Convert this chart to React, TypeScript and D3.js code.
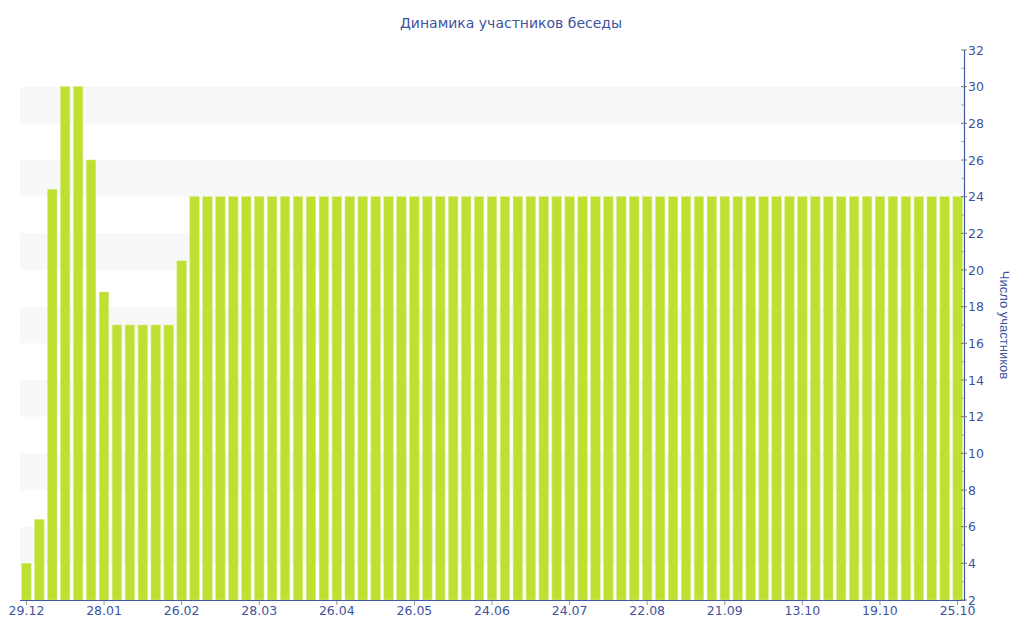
import React from "react";
import * as d3 from "d3";

const title = "Динамика участников беседы";
const yAxisTitle = "Число участников";

const headValues = [4, 6.4, 24.4, 30, 30, 26, 18.8, 17, 17, 17, 17, 17, 20.5];
const tailValues = [
  24, 24, 24, 24, 24, 24, 24, 24, 24, 24, 24, 24, 24, 24, 24, 24, 24, 24, 24, 24,
  24, 24, 24, 24, 24, 24, 24, 24, 24, 24, 24, 24, 24, 24, 24, 24, 24, 24, 24, 24,
  24, 24, 24, 24, 24, 24, 24, 24, 24, 24, 24, 24, 24, 24, 24, 24, 24, 24, 24, 24,
];
const values = [...headValues, ...tailValues];

const tickLabels = [
  "29.12", "28.01", "26.02", "28.03", "26.04", "26.05", "24.06",
  "24.07", "22.08", "21.09", "13.10", "19.10", "25.10",
];
const labelEvery = 6;

const yTicks = [2, 4, 6, 8, 10, 12, 14, 16, 18, 20, 22, 24, 26, 28, 30, 32];

const W = 1024;
const H = 640;
const left = 20;
const right = 964;
const top = 50;
const bottom = 600;

const axisColor = "#4257a6";
const textColor = "#40539e";
const barColor = "#bde031";
const font = "'DejaVu Sans', Verdana, sans-serif";

export default function App() {
  const idx = values.map((_, i) => i);
  const x = d3.scaleBand<number>().domain(idx).range([left, right]).paddingInner(0.27).paddingOuter(0.13);
  const xc = d3.scaleBand<number>().domain(idx).range([left, right]);
  const y = d3.scaleLinear().domain([2, 32]).range([bottom, top]);

  const bands: number[] = [];
  for (let v = 4; v < 32; v += 4) bands.push(v);
  const minor = d3.range(3, 32, 2);

  return (
    <svg width={W} height={H} style={{ position: "absolute", left: 0, top: 0, background: "#fff" }}>
      <text x={511} y={28} textAnchor="middle" fontFamily={font} fontSize={14} fill={textColor}>
        {title}
      </text>
      {bands.map((v) => (
        <rect key={v} x={left} y={y(v + 2)} width={right - left} height={y(v) - y(v + 2)} fill="#f8f8f8" />
      ))}
      {values.map((v, i) => (
        <rect
          key={i}
          x={x(i)!}
          y={y(v)}
          width={x.bandwidth()}
          height={bottom - y(v)}
          fill={barColor}
          stroke="#d6ec86"
          strokeWidth={0.6}
        />
      ))}
      {/* x axis */}
      <line x1={left} x2={right} y1={bottom + 0.5} y2={bottom + 0.5} stroke={axisColor} strokeWidth={1.2} />
      {tickLabels.map((lab, k) => {
        const i = k * labelEvery;
        const cx = (xc(i) ?? 0) + xc.bandwidth() / 2;
        return (
          <g key={lab}>
            <line x1={cx} x2={cx} y1={bottom + 1} y2={bottom + 5} stroke="#999" />
            <text x={cx} y={bottom + 15} textAnchor="middle" fontFamily={font} fontSize={12.5} fill={textColor}>
              {lab}
            </text>
          </g>
        );
      })}
      {/* y axis */}
      <line x1={right + 0.5} x2={right + 0.5} y1={top} y2={bottom + 1} stroke={axisColor} strokeWidth={1.2} />
      {minor.map((v) => (
        <line key={"m" + v} x1={right - 3} x2={right} y1={y(v)} y2={y(v)} stroke="#aaa" />
      ))}
      {yTicks.map((v) => (
        <g key={v}>
          <line x1={right - 3} x2={right + 3} y1={y(v)} y2={y(v)} stroke="#777" />
          <text x={right + 4} y={y(v) + 4.5} fontFamily={font} fontSize={12.5} fill={textColor}>
            {v}
          </text>
        </g>
      ))}
      <text
        transform={`translate(1000, ${(top + bottom) / 2}) rotate(90)`}
        textAnchor="middle"
        fontFamily="'Liberation Sans', Arial, sans-serif"
        fontSize={13}
        fill={textColor}
      >
        {yAxisTitle}
      </text>
    </svg>
  );
}
